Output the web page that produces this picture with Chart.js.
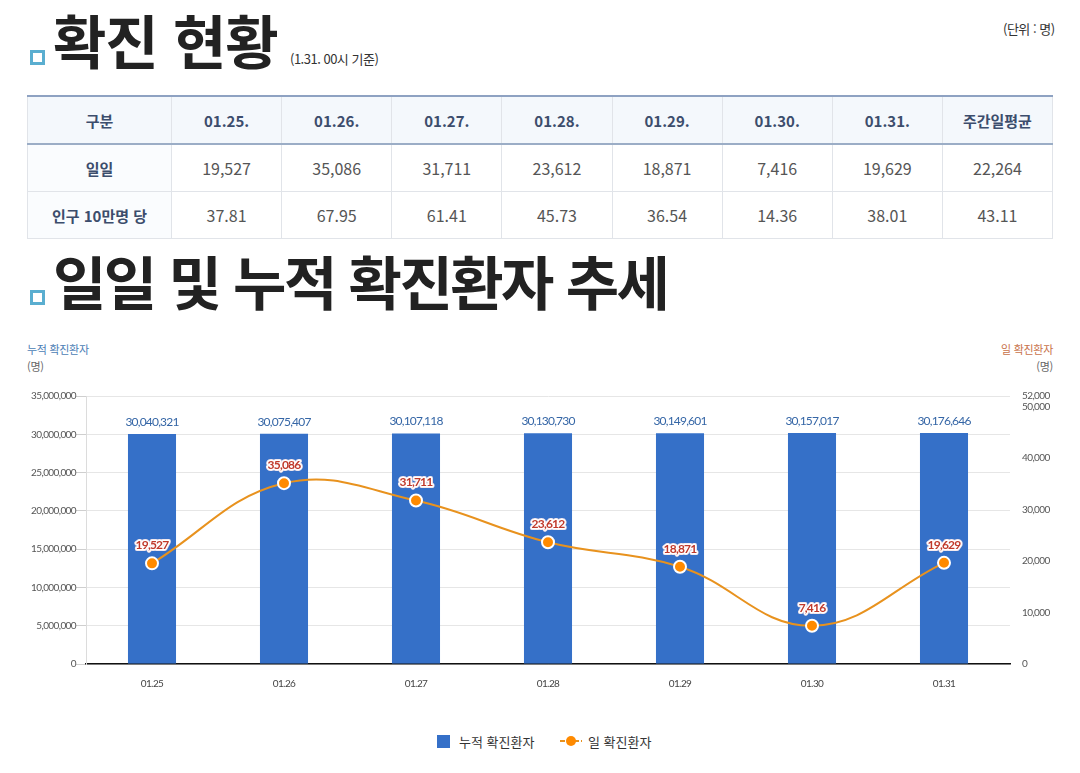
<!DOCTYPE html>
<html lang="ko">
<head>
<meta charset="utf-8">
<title>확진 현황</title>
<script src="https://cdn.jsdelivr.net/npm/chart.js@4"></script>
<style>
  html, body { margin: 0; padding: 0; background: #fff; }
  body { width: 1080px; height: 773px; position: relative; overflow: hidden; font-family: "Noto Sans CJK KR", "Noto Sans", sans-serif; }
  .icon { position: absolute; width: 9px; height: 9px; border: 3px solid #5aaed0; background: #fff; }
  .title { position: absolute; left: 53px; margin: 0; font-size: 58px; font-weight: 700; color: #222; letter-spacing: -1px; line-height: 1; }
  .note { position: absolute; font-size: 13px; color: #333; letter-spacing: -0.5px; }
  table { position: absolute; left: 27px; top: 95px; border-collapse: collapse; table-layout: fixed; width: 1026px; }
  th, td { border: 1px solid #e1e4e9; text-align: center; height: 46px; padding: 0; }
  thead th { background: #f4f8fc; color: #3c4d6c; font-size: 15px; font-weight: 700; border-top: 2px solid #8ea2c2; border-bottom: 2px solid #9badc6; }
  tbody th { background: #fafcfe; color: #3c4d6c; font-size: 15px; font-weight: 700; }
  tbody td { color: #555; font-size: 16px; font-weight: 400; }
  .axis-title { position: absolute; font-size: 11px; line-height: 17px; letter-spacing: -0.3px; }
  #chartBox { position: absolute; left: 0; top: 330px; width: 1080px; height: 370px; }
  .legend { position: absolute; top: 732px; font-size: 13px; color: #333; display: flex; align-items: center; }
</style>
</head>
<body>
<div class="icon" style="left:30px; top:50px;"></div>
<h1 class="title" style="top:10px;">확진 현황</h1>
<div class="note" style="left:290px; top:49px;">(1.31. 00시 기준)</div>
<div class="note" style="left:1003px; top:19px;">(단위 : 명)</div>

<table id="statTable">
  <colgroup><col style="width:144px"></colgroup>
  <thead><tr id="headRow"><th>구분</th></tr></thead>
  <tbody>
    <tr id="dailyRow"><th>일일</th></tr>
    <tr id="perRow"><th>인구 10만명 당</th></tr>
  </tbody>
</table>

<div class="icon" style="left:30px; top:290px;"></div>
<h1 class="title" style="top:251px; letter-spacing:-2.5px;">일일 및 누적 확진환자 추세</h1>

<div class="axis-title" style="left:27px; top:341px; color:#4b7db5;">누적 확진환자</div>
<div class="axis-title" style="left:27px; top:358px; color:#666;">(명)</div>
<div class="axis-title" style="right:27px; top:341px; color:#c8724a; text-align:right;">일 확진환자</div>
<div class="axis-title" style="right:27px; top:358px; color:#666; text-align:right;">(명)</div>

<div id="chartBox"><canvas id="trendChart"></canvas></div>

<div class="legend" style="left:437px;">
  <span style="display:inline-block; width:13px; height:13px; background:#3570c8; margin-right:9px;"></span>누적 확진환자
</div>
<div class="legend" style="left:560px;">
  <span style="position:relative; display:inline-block; width:22px; height:13px; margin-right:6px;">
    <span style="position:absolute; left:0; top:5px; width:22px; height:2px; background:repeating-linear-gradient(90deg,#e8921e 0 5px,transparent 5px 7px);"></span>
    <span style="position:absolute; left:6px; top:1px; width:10px; height:10px; border-radius:50%; background:#ff8a00;"></span>
  </span>일 확진환자
</div>

<script>
// 표 데이터
const tableHeaders = ['01.25.', '01.26.', '01.27.', '01.28.', '01.29.', '01.30.', '01.31.', '주간일평균'];
const dailyTable = ['19,527', '35,086', '31,711', '23,612', '18,871', '7,416', '19,629', '22,264'];
const per100kTable = ['37.81', '67.95', '61.41', '45.73', '36.54', '14.36', '38.01', '43.11'];

// 차트 데이터
const dates = ['01.25', '01.26', '01.27', '01.28', '01.29', '01.30', '01.31'];
const cumulativeCases = [30040321, 30075407, 30107118, 30130730, 30149601, 30157017, 30176646];
const dailyCases = [19527, 35086, 31711, 23612, 18871, 7416, 19629];
const rightTicks = [0, 10000, 20000, 30000, 40000, 50000, 52000];

function fillTable() {
    const head = document.getElementById('headRow');
    const daily = document.getElementById('dailyRow');
    const per = document.getElementById('perRow');
    tableHeaders.forEach((h, i) => {
        const th = document.createElement('th');
        th.textContent = h;
        head.appendChild(th);
        const td1 = document.createElement('td');
        td1.textContent = dailyTable[i];
        daily.appendChild(td1);
        const td2 = document.createElement('td');
        td2.textContent = per100kTable[i];
        per.appendChild(td2);
    });
}

function fmt(v) {
    return v.toLocaleString('en-US');
}

// 눈금 글자 간격 좁히기
const tightText = {
    id: 'tightText',
    beforeDraw(chart) {
        chart.ctx.letterSpacing = '-0.6px';
    }
};

// 값 라벨 그리기 (datalabels 플러그인 대신)
const valueLabels = {
    id: 'valueLabels',
    afterDatasetsDraw(chart) {
        const ctx = chart.ctx;
        ctx.save();
        ctx.textAlign = 'center';
        ctx.textBaseline = 'middle';
        ctx.letterSpacing = '-0.8px';

        const barMeta = chart.getDatasetMeta(1);
        ctx.font = '12px Lato';
        ctx.fillStyle = '#3566a6';
        barMeta.data.forEach((el, i) => {
            ctx.fillText(fmt(cumulativeCases[i]), el.x, el.y - 12);
        });

        const lineMeta = chart.getDatasetMeta(0);
        ctx.font = 'bold 12px Lato';
        ctx.lineJoin = 'round';
        lineMeta.data.forEach((el, i) => {
            const txt = fmt(dailyCases[i]);
            ctx.strokeStyle = 'rgba(255,235,235,0.9)';
            ctx.lineWidth = 4;
            ctx.strokeText(txt, el.x, el.y - 18);
            ctx.strokeStyle = '#ffffff';
            ctx.lineWidth = 2.5;
            ctx.strokeText(txt, el.x, el.y - 18);
            ctx.fillStyle = '#c0392b';
            ctx.fillText(txt, el.x, el.y - 18);
        });
        ctx.restore();
    }
};

function createChart() {
    const ctx = document.getElementById('trendChart').getContext('2d');
    new Chart(ctx, {
        data: {
            labels: dates,
            datasets: [
                {
                    type: 'line',
                    label: '일 확진환자',
                    data: dailyCases,
                    yAxisID: 'yRight',
                    borderColor: '#e8921e',
                    borderWidth: 2,
                    tension: 0.4,
                    pointRadius: 6,
                    pointHoverRadius: 6,
                    pointBackgroundColor: '#ff8a00',
                    pointBorderColor: '#ffffff',
                    pointBorderWidth: 2,
                    order: 1
                },
                {
                    type: 'bar',
                    label: '누적 확진환자',
                    data: cumulativeCases,
                    yAxisID: 'yLeft',
                    backgroundColor: '#3570c8',
                    categoryPercentage: 1,
                    barPercentage: 0.364,
                    order: 2
                }
            ]
        },
        options: {
            responsive: true,
            maintainAspectRatio: false,
            animation: false,
            layout: { padding: { top: 66, left: 0, right: 0, bottom: 0 } },
            plugins: {
                legend: { display: false },
                tooltip: { enabled: false }
            },
            scales: {
                x: {
                    grid: { display: false, drawTicks: false },
                    border: { color: '#111', width: 1.5 },
                    ticks: { padding: 14, color: '#444', font: { family: 'Lato', size: 10 } },
                    afterFit(scale) { scale.height = 36; }
                },
                yLeft: {
                    position: 'left',
                    min: 0,
                    max: 35000000,
                    ticks: {
                        stepSize: 5000000,
                        padding: 0,
                        color: '#555',
                        font: { family: 'Lato', size: 10 },
                        callback: v => fmt(v)
                    },
                    grid: { color: '#e6e6e6', tickLength: 10, tickColor: '#cfcfcf' },
                    border: { color: '#dcdcdc' },
                    afterFit(scale) { scale.width = 86; }
                },
                yRight: {
                    position: 'right',
                    min: 0,
                    max: 52000,
                    ticks: {
                        padding: 12,
                        color: '#555',
                        font: { family: 'Lato', size: 10 },
                        callback: v => fmt(v)
                    },
                    afterBuildTicks(scale) {
                        scale.ticks = rightTicks.map(v => ({ value: v }));
                    },
                    grid: { drawOnChartArea: false, drawTicks: false },
                    border: { display: false },
                    afterFit(scale) { scale.width = 70; }
                }
            }
        },
        plugins: [tightText, valueLabels]
    });
}

document.addEventListener('DOMContentLoaded', function () {
    fillTable();
    createChart();
});
</script>
</body>
</html>
